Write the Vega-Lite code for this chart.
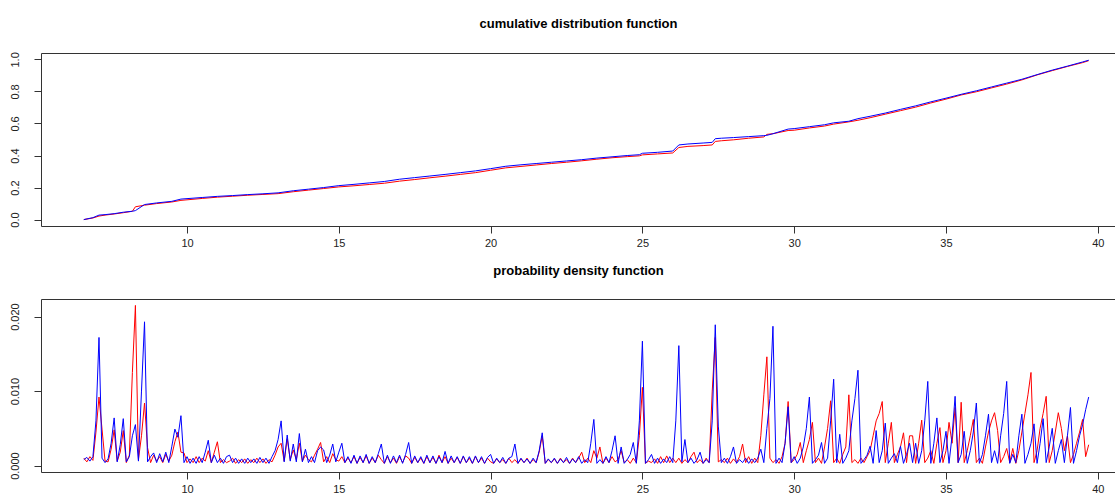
{
"$schema": "https://vega.github.io/schema/vega-lite/v6.json",
"background": "white",
"padding": {"left": 0, "right": 0, "top": 17, "bottom": 0},
"spacing": 12,
"config": {
  "view": {"stroke": "#333", "strokeWidth": 1},
  "font": "Liberation Sans",
  "title": {"font": "Liberation Sans", "fontSize": 13, "fontWeight": "bold", "color": "black", "anchor": "middle", "offset": 21},
  "axis": {"title": null, "grid": false, "domain": false, "tickColor": "#333", "tickSize": 7, "labelFont": "Liberation Sans", "labelFontSize": 11, "labelColor": "#222", "labelOverlap": false, "labelFlush": false, "labelBound": false},
  "axisX": {"labelPadding": 4, "minExtent": 25, "maxExtent": 25},
  "axisY": {"labelAngle": -90, "labelAlign": "center", "labelBaseline": "bottom", "labelPadding": 14, "minExtent": 40, "maxExtent": 40}
},
"datasets": {
"cdf": [
{"x":6.6,"b":0,"r":0},
{"x":6.9,"b":0.012,"r":0.010},
{"x":7.1,"b":0.028,"r":0.022},
{"x":7.3,"b":0.031,"r":0.028},
{"x":7.6,"b":0.037,"r":0.035},
{"x":7.9,"b":0.046,"r":0.043},
{"x":8.2,"b":0.052,"r":0.052},
{"x":8.3,"b":0.056,"r":0.080},
{"x":8.6,"b":0.094,"r":0.090},
{"x":9.0,"b":0.104,"r":0.100},
{"x":9.5,"b":0.114,"r":0.110},
{"x":9.8,"b":0.128,"r":0.120},
{"x":10.5,"b":0.138,"r":0.132},
{"x":11.0,"b":0.145,"r":0.140},
{"x":11.5,"b":0.150,"r":0.146},
{"x":12.0,"b":0.156,"r":0.152},
{"x":12.5,"b":0.161,"r":0.157},
{"x":13.0,"b":0.167,"r":0.162},
{"x":13.5,"b":0.180,"r":0.174},
{"x":14.0,"b":0.190,"r":0.184},
{"x":14.5,"b":0.200,"r":0.194},
{"x":15.0,"b":0.212,"r":0.204},
{"x":15.5,"b":0.220,"r":0.211},
{"x":16.0,"b":0.229,"r":0.219},
{"x":16.5,"b":0.238,"r":0.227},
{"x":17.0,"b":0.252,"r":0.240},
{"x":17.5,"b":0.262,"r":0.250},
{"x":18.0,"b":0.272,"r":0.261},
{"x":18.5,"b":0.282,"r":0.271},
{"x":19.0,"b":0.293,"r":0.282},
{"x":19.5,"b":0.304,"r":0.293},
{"x":20.0,"b":0.318,"r":0.308},
{"x":20.5,"b":0.333,"r":0.323},
{"x":21.0,"b":0.342,"r":0.332},
{"x":21.5,"b":0.350,"r":0.341},
{"x":22.0,"b":0.358,"r":0.350},
{"x":22.5,"b":0.366,"r":0.358},
{"x":23.0,"b":0.374,"r":0.367},
{"x":23.5,"b":0.384,"r":0.377},
{"x":24.0,"b":0.392,"r":0.386},
{"x":24.5,"b":0.400,"r":0.393},
{"x":24.9,"b":0.405,"r":0.398},
{"x":25.0,"b":0.414,"r":0.404},
{"x":25.5,"b":0.420,"r":0.410},
{"x":26.0,"b":0.428,"r":0.416},
{"x":26.2,"b":0.466,"r":0.450},
{"x":26.5,"b":0.472,"r":0.457},
{"x":27.0,"b":0.478,"r":0.462},
{"x":27.3,"b":0.482,"r":0.466},
{"x":27.4,"b":0.505,"r":0.488},
{"x":27.6,"b":0.508,"r":0.492},
{"x":28.0,"b":0.512,"r":0.498},
{"x":28.5,"b":0.518,"r":0.508},
{"x":29.0,"b":0.524,"r":0.516},
{"x":29.1,"b":0.526,"r":0.532},
{"x":29.3,"b":0.536,"r":0.536},
{"x":29.8,"b":0.565,"r":0.556},
{"x":30.0,"b":0.568,"r":0.558},
{"x":30.5,"b":0.580,"r":0.572},
{"x":31.0,"b":0.592,"r":0.584},
{"x":31.3,"b":0.604,"r":0.596},
{"x":31.8,"b":0.614,"r":0.610},
{"x":32.1,"b":0.630,"r":0.620},
{"x":32.5,"b":0.645,"r":0.636},
{"x":33.0,"b":0.665,"r":0.658},
{"x":33.5,"b":0.688,"r":0.680},
{"x":34.0,"b":0.710,"r":0.702},
{"x":34.5,"b":0.735,"r":0.728},
{"x":35.0,"b":0.758,"r":0.752},
{"x":35.5,"b":0.782,"r":0.778},
{"x":36.0,"b":0.804,"r":0.798},
{"x":36.5,"b":0.828,"r":0.822},
{"x":37.0,"b":0.852,"r":0.846},
{"x":37.5,"b":0.876,"r":0.872},
{"x":38.0,"b":0.905,"r":0.903},
{"x":38.5,"b":0.933,"r":0.930},
{"x":39.0,"b":0.958,"r":0.956},
{"x":39.5,"b":0.984,"r":0.980},
{"x":39.7,"b":0.995,"r":0.992}
],
"pdf": [
{"x":6.6,"b":0.0008,"r":0.0010},
{"x":6.7,"b":0.0011,"r":0.0005},
{"x":6.8,"b":0.0006,"r":0.0012},
{"x":6.9,"b":0.0012,"r":0.0007},
{"x":7.0,"b":0.0060,"r":0.0045},
{"x":7.1,"b":0.0172,"r":0.0092},
{"x":7.2,"b":0.0010,"r":0.0049},
{"x":7.3,"b":0.0004,"r":0.0006},
{"x":7.4,"b":0.0009,"r":0.0005},
{"x":7.5,"b":0.0030,"r":0.0022},
{"x":7.6,"b":0.0064,"r":0.0048},
{"x":7.7,"b":0.0005,"r":0.0006},
{"x":7.8,"b":0.0028,"r":0.0018},
{"x":7.9,"b":0.0063,"r":0.0047},
{"x":8.0,"b":0.0005,"r":0.0004},
{"x":8.1,"b":0.0012,"r":0.0014},
{"x":8.2,"b":0.0040,"r":0.0125},
{"x":8.3,"b":0.0055,"r":0.0215},
{"x":8.4,"b":0.0006,"r":0.0008},
{"x":8.5,"b":0.0100,"r":0.0040},
{"x":8.6,"b":0.0193,"r":0.0084},
{"x":8.7,"b":0.0005,"r":0.0024},
{"x":8.8,"b":0.0012,"r":0.0004},
{"x":8.9,"b":0.0017,"r":0.0014},
{"x":9.0,"b":0.0004,"r":0.0006},
{"x":9.1,"b":0.0016,"r":0.0012},
{"x":9.2,"b":0.0005,"r":0.0004},
{"x":9.3,"b":0.0018,"r":0.0015},
{"x":9.4,"b":0.0004,"r":0.0006},
{"x":9.5,"b":0.0026,"r":0.0014},
{"x":9.6,"b":0.0049,"r":0.0032},
{"x":9.7,"b":0.0038,"r":0.0045},
{"x":9.8,"b":0.0067,"r":0.0018},
{"x":9.9,"b":0.0004,"r":0.0017},
{"x":10.0,"b":0.0012,"r":0.0004},
{"x":10.1,"b":0.0003,"r":0.0009},
{"x":10.2,"b":0.0010,"r":0.0004},
{"x":10.3,"b":0.0003,"r":0.0012},
{"x":10.4,"b":0.0012,"r":0.0004},
{"x":10.5,"b":0.0004,"r":0.0010},
{"x":10.6,"b":0.0018,"r":0.0006},
{"x":10.7,"b":0.0034,"r":0.0020},
{"x":10.8,"b":0.0004,"r":0.0004},
{"x":10.9,"b":0.0014,"r":0.0018},
{"x":11.0,"b":0.0004,"r":0.0032},
{"x":11.1,"b":0.0010,"r":0.0004},
{"x":11.2,"b":0.0003,"r":0.0008},
{"x":11.3,"b":0.0012,"r":0.0004},
{"x":11.4,"b":0.0014,"r":0.0006},
{"x":11.5,"b":0.0004,"r":0.0010},
{"x":11.6,"b":0.0010,"r":0.0003},
{"x":11.7,"b":0.0003,"r":0.0008},
{"x":11.8,"b":0.0009,"r":0.0004},
{"x":11.9,"b":0.0003,"r":0.0009},
{"x":12.0,"b":0.0010,"r":0.0003},
{"x":12.1,"b":0.0004,"r":0.0008},
{"x":12.2,"b":0.0009,"r":0.0004},
{"x":12.3,"b":0.0003,"r":0.0010},
{"x":12.4,"b":0.0011,"r":0.0004},
{"x":12.5,"b":0.0004,"r":0.0009},
{"x":12.6,"b":0.0010,"r":0.0003},
{"x":12.7,"b":0.0003,"r":0.0008},
{"x":12.8,"b":0.0012,"r":0.0005},
{"x":12.9,"b":0.0020,"r":0.0014},
{"x":13.0,"b":0.0035,"r":0.0025},
{"x":13.1,"b":0.0060,"r":0.0030},
{"x":13.2,"b":0.0005,"r":0.0006},
{"x":13.3,"b":0.0041,"r":0.0036},
{"x":13.4,"b":0.0006,"r":0.0008},
{"x":13.5,"b":0.0029,"r":0.0021},
{"x":13.6,"b":0.0005,"r":0.0008},
{"x":13.7,"b":0.0043,"r":0.0030},
{"x":13.8,"b":0.0005,"r":0.0006},
{"x":13.9,"b":0.0022,"r":0.0014},
{"x":14.0,"b":0.0004,"r":0.0008},
{"x":14.1,"b":0.0012,"r":0.0005},
{"x":14.2,"b":0.0004,"r":0.0014},
{"x":14.3,"b":0.0020,"r":0.0022},
{"x":14.4,"b":0.0025,"r":0.0031},
{"x":14.5,"b":0.0021,"r":0.0005},
{"x":14.6,"b":0.0004,"r":0.0012},
{"x":14.7,"b":0.0014,"r":0.0004},
{"x":14.8,"b":0.0029,"r":0.0016},
{"x":14.9,"b":0.0005,"r":0.0008},
{"x":15.0,"b":0.0018,"r":0.0006},
{"x":15.1,"b":0.0030,"r":0.0012},
{"x":15.2,"b":0.0004,"r":0.0004},
{"x":15.3,"b":0.0012,"r":0.0010},
{"x":15.4,"b":0.0003,"r":0.0004},
{"x":15.5,"b":0.0014,"r":0.0012},
{"x":15.6,"b":0.0003,"r":0.0003},
{"x":15.7,"b":0.0013,"r":0.0011},
{"x":15.8,"b":0.0004,"r":0.0004},
{"x":15.9,"b":0.0015,"r":0.0013},
{"x":16.0,"b":0.0003,"r":0.0003},
{"x":16.1,"b":0.0012,"r":0.0010},
{"x":16.2,"b":0.0004,"r":0.0004},
{"x":16.3,"b":0.0016,"r":0.0014},
{"x":16.4,"b":0.0029,"r":0.0008},
{"x":16.5,"b":0.0003,"r":0.0003},
{"x":16.6,"b":0.0014,"r":0.0012},
{"x":16.7,"b":0.0003,"r":0.0004},
{"x":16.8,"b":0.0013,"r":0.0010},
{"x":16.9,"b":0.0004,"r":0.0003},
{"x":17.0,"b":0.0014,"r":0.0012},
{"x":17.1,"b":0.0003,"r":0.0004},
{"x":17.2,"b":0.0015,"r":0.0013},
{"x":17.3,"b":0.0031,"r":0.0010},
{"x":17.4,"b":0.0003,"r":0.0003},
{"x":17.5,"b":0.0013,"r":0.0011},
{"x":17.6,"b":0.0004,"r":0.0004},
{"x":17.7,"b":0.0012,"r":0.0010},
{"x":17.8,"b":0.0003,"r":0.0003},
{"x":17.9,"b":0.0014,"r":0.0012},
{"x":18.0,"b":0.0004,"r":0.0004},
{"x":18.1,"b":0.0013,"r":0.0011},
{"x":18.2,"b":0.0003,"r":0.0003},
{"x":18.3,"b":0.0012,"r":0.0014},
{"x":18.4,"b":0.0004,"r":0.0004},
{"x":18.5,"b":0.0019,"r":0.0012},
{"x":18.6,"b":0.0003,"r":0.0003},
{"x":18.7,"b":0.0013,"r":0.0010},
{"x":18.8,"b":0.0004,"r":0.0004},
{"x":18.9,"b":0.0012,"r":0.0011},
{"x":19.0,"b":0.0003,"r":0.0003},
{"x":19.1,"b":0.0013,"r":0.0012},
{"x":19.2,"b":0.0004,"r":0.0004},
{"x":19.3,"b":0.0012,"r":0.0010},
{"x":19.4,"b":0.0003,"r":0.0003},
{"x":19.5,"b":0.0013,"r":0.0012},
{"x":19.6,"b":0.0004,"r":0.0004},
{"x":19.7,"b":0.0012,"r":0.0010},
{"x":19.8,"b":0.0003,"r":0.0003},
{"x":19.9,"b":0.0011,"r":0.0010},
{"x":20.0,"b":0.0015,"r":0.0005},
{"x":20.1,"b":0.0003,"r":0.0003},
{"x":20.2,"b":0.0010,"r":0.0009},
{"x":20.3,"b":0.0004,"r":0.0004},
{"x":20.4,"b":0.0011,"r":0.0008},
{"x":20.5,"b":0.0003,"r":0.0003},
{"x":20.6,"b":0.0010,"r":0.0010},
{"x":20.7,"b":0.0012,"r":0.0004},
{"x":20.8,"b":0.0029,"r":0.0008},
{"x":20.9,"b":0.0003,"r":0.0003},
{"x":21.0,"b":0.0010,"r":0.0009},
{"x":21.1,"b":0.0004,"r":0.0004},
{"x":21.2,"b":0.0009,"r":0.0010},
{"x":21.3,"b":0.0003,"r":0.0003},
{"x":21.4,"b":0.0010,"r":0.0008},
{"x":21.5,"b":0.0004,"r":0.0004},
{"x":21.6,"b":0.0020,"r":0.0018},
{"x":21.7,"b":0.0044,"r":0.0040},
{"x":21.8,"b":0.0003,"r":0.0003},
{"x":21.9,"b":0.0009,"r":0.0008},
{"x":22.0,"b":0.0004,"r":0.0004},
{"x":22.1,"b":0.0010,"r":0.0009},
{"x":22.2,"b":0.0003,"r":0.0003},
{"x":22.3,"b":0.0009,"r":0.0010},
{"x":22.4,"b":0.0004,"r":0.0004},
{"x":22.5,"b":0.0011,"r":0.0008},
{"x":22.6,"b":0.0003,"r":0.0003},
{"x":22.7,"b":0.0009,"r":0.0010},
{"x":22.8,"b":0.0004,"r":0.0004},
{"x":22.9,"b":0.0012,"r":0.0010},
{"x":23.0,"b":0.0003,"r":0.0018},
{"x":23.1,"b":0.0008,"r":0.0004},
{"x":23.2,"b":0.0004,"r":0.0010},
{"x":23.3,"b":0.0030,"r":0.0004},
{"x":23.4,"b":0.0062,"r":0.0020},
{"x":23.5,"b":0.0003,"r":0.0010},
{"x":23.6,"b":0.0008,"r":0.0025},
{"x":23.7,"b":0.0003,"r":0.0003},
{"x":23.8,"b":0.0012,"r":0.0010},
{"x":23.9,"b":0.0004,"r":0.0004},
{"x":24.0,"b":0.0020,"r":0.0012},
{"x":24.1,"b":0.0040,"r":0.0005},
{"x":24.2,"b":0.0003,"r":0.0008},
{"x":24.3,"b":0.0025,"r":0.0020},
{"x":24.4,"b":0.0003,"r":0.0004},
{"x":24.5,"b":0.0008,"r":0.0008},
{"x":24.6,"b":0.0015,"r":0.0003},
{"x":24.7,"b":0.0031,"r":0.0010},
{"x":24.8,"b":0.0003,"r":0.0004},
{"x":24.9,"b":0.0060,"r":0.0040},
{"x":25.0,"b":0.0167,"r":0.0105},
{"x":25.1,"b":0.0003,"r":0.0003},
{"x":25.2,"b":0.0008,"r":0.0006},
{"x":25.3,"b":0.0015,"r":0.0004},
{"x":25.4,"b":0.0003,"r":0.0009},
{"x":25.5,"b":0.0010,"r":0.0003},
{"x":25.6,"b":0.0003,"r":0.0012},
{"x":25.7,"b":0.0009,"r":0.0004},
{"x":25.8,"b":0.0004,"r":0.0013},
{"x":25.9,"b":0.0012,"r":0.0004},
{"x":26.0,"b":0.0004,"r":0.0010},
{"x":26.1,"b":0.0060,"r":0.0004},
{"x":26.2,"b":0.0161,"r":0.0010},
{"x":26.3,"b":0.0005,"r":0.0003},
{"x":26.4,"b":0.0035,"r":0.0008},
{"x":26.5,"b":0.0004,"r":0.0004},
{"x":26.6,"b":0.0010,"r":0.0012},
{"x":26.7,"b":0.0003,"r":0.0018},
{"x":26.8,"b":0.0008,"r":0.0004},
{"x":26.9,"b":0.0018,"r":0.0008},
{"x":27.0,"b":0.0003,"r":0.0003},
{"x":27.1,"b":0.0008,"r":0.0010},
{"x":27.2,"b":0.0004,"r":0.0004},
{"x":27.3,"b":0.0060,"r":0.0100},
{"x":27.4,"b":0.0189,"r":0.0172},
{"x":27.5,"b":0.0053,"r":0.0005},
{"x":27.6,"b":0.0004,"r":0.0008},
{"x":27.7,"b":0.0010,"r":0.0004},
{"x":27.8,"b":0.0003,"r":0.0010},
{"x":27.9,"b":0.0012,"r":0.0003},
{"x":28.0,"b":0.0025,"r":0.0009},
{"x":28.1,"b":0.0003,"r":0.0004},
{"x":28.2,"b":0.0008,"r":0.0012},
{"x":28.3,"b":0.0004,"r":0.0029},
{"x":28.4,"b":0.0010,"r":0.0004},
{"x":28.5,"b":0.0003,"r":0.0012},
{"x":28.6,"b":0.0009,"r":0.0003},
{"x":28.7,"b":0.0004,"r":0.0010},
{"x":28.8,"b":0.0010,"r":0.0004},
{"x":28.9,"b":0.0022,"r":0.0040},
{"x":29.0,"b":0.0004,"r":0.0095},
{"x":29.1,"b":0.0050,"r":0.0146},
{"x":29.2,"b":0.0090,"r":0.0010},
{"x":29.3,"b":0.0187,"r":0.0004},
{"x":29.4,"b":0.0003,"r":0.0008},
{"x":29.5,"b":0.0010,"r":0.0003},
{"x":29.6,"b":0.0004,"r":0.0012},
{"x":29.7,"b":0.0030,"r":0.0030},
{"x":29.8,"b":0.0079,"r":0.0086},
{"x":29.9,"b":0.0004,"r":0.0004},
{"x":30.0,"b":0.0012,"r":0.0008},
{"x":30.1,"b":0.0003,"r":0.0015},
{"x":30.2,"b":0.0010,"r":0.0031},
{"x":30.3,"b":0.0025,"r":0.0004},
{"x":30.4,"b":0.0050,"r":0.0020},
{"x":30.5,"b":0.0092,"r":0.0035},
{"x":30.6,"b":0.0003,"r":0.0058},
{"x":30.7,"b":0.0008,"r":0.0004},
{"x":30.8,"b":0.0014,"r":0.0010},
{"x":30.9,"b":0.0031,"r":0.0003},
{"x":31.0,"b":0.0003,"r":0.0025},
{"x":31.1,"b":0.0010,"r":0.0050},
{"x":31.2,"b":0.0060,"r":0.0087},
{"x":31.3,"b":0.0116,"r":0.0004},
{"x":31.4,"b":0.0004,"r":0.0010},
{"x":31.5,"b":0.0042,"r":0.0003},
{"x":31.6,"b":0.0003,"r":0.0015},
{"x":31.7,"b":0.0010,"r":0.0025},
{"x":31.8,"b":0.0020,"r":0.0095},
{"x":31.9,"b":0.0060,"r":0.0004},
{"x":32.0,"b":0.0090,"r":0.0008},
{"x":32.1,"b":0.0128,"r":0.0003},
{"x":32.2,"b":0.0003,"r":0.0010},
{"x":32.3,"b":0.0008,"r":0.0004},
{"x":32.4,"b":0.0014,"r":0.0012},
{"x":32.5,"b":0.0026,"r":0.0020},
{"x":32.6,"b":0.0003,"r":0.0040},
{"x":32.7,"b":0.0047,"r":0.0060},
{"x":32.8,"b":0.0004,"r":0.0070},
{"x":32.9,"b":0.0020,"r":0.0086},
{"x":33.0,"b":0.0057,"r":0.0004},
{"x":33.1,"b":0.0003,"r":0.0030},
{"x":33.2,"b":0.0010,"r":0.0058},
{"x":33.3,"b":0.0016,"r":0.0004},
{"x":33.4,"b":0.0004,"r":0.0015},
{"x":33.5,"b":0.0026,"r":0.0025},
{"x":33.6,"b":0.0003,"r":0.0044},
{"x":33.7,"b":0.0015,"r":0.0004},
{"x":33.8,"b":0.0030,"r":0.0040},
{"x":33.9,"b":0.0004,"r":0.0040},
{"x":34.0,"b":0.0030,"r":0.0003},
{"x":34.1,"b":0.0003,"r":0.0030},
{"x":34.2,"b":0.0020,"r":0.0061},
{"x":34.3,"b":0.0060,"r":0.0004},
{"x":34.4,"b":0.0113,"r":0.0010},
{"x":34.5,"b":0.0003,"r":0.0020},
{"x":34.6,"b":0.0030,"r":0.0003},
{"x":34.7,"b":0.0064,"r":0.0030},
{"x":34.8,"b":0.0004,"r":0.0051},
{"x":34.9,"b":0.0020,"r":0.0004},
{"x":35.0,"b":0.0046,"r":0.0020},
{"x":35.1,"b":0.0003,"r":0.0058},
{"x":35.2,"b":0.0040,"r":0.0030},
{"x":35.3,"b":0.0093,"r":0.0078},
{"x":35.4,"b":0.0004,"r":0.0004},
{"x":35.5,"b":0.0015,"r":0.0085},
{"x":35.6,"b":0.0046,"r":0.0004},
{"x":35.7,"b":0.0003,"r":0.0020},
{"x":35.8,"b":0.0020,"r":0.0040},
{"x":35.9,"b":0.0045,"r":0.0062},
{"x":36.0,"b":0.0084,"r":0.0004},
{"x":36.1,"b":0.0003,"r":0.0010},
{"x":36.2,"b":0.0015,"r":0.0003},
{"x":36.3,"b":0.0040,"r":0.0025},
{"x":36.4,"b":0.0069,"r":0.0045},
{"x":36.5,"b":0.0004,"r":0.0060},
{"x":36.6,"b":0.0020,"r":0.0071},
{"x":36.7,"b":0.0003,"r":0.0047},
{"x":36.8,"b":0.0040,"r":0.0004},
{"x":36.9,"b":0.0070,"r":0.0012},
{"x":37.0,"b":0.0113,"r":0.0023},
{"x":37.1,"b":0.0003,"r":0.0004},
{"x":37.2,"b":0.0015,"r":0.0023},
{"x":37.3,"b":0.0004,"r":0.0003},
{"x":37.4,"b":0.0040,"r":0.0020},
{"x":37.5,"b":0.0069,"r":0.0045},
{"x":37.6,"b":0.0003,"r":0.0070},
{"x":37.7,"b":0.0015,"r":0.0095},
{"x":37.8,"b":0.0030,"r":0.0125},
{"x":37.9,"b":0.0056,"r":0.0004},
{"x":38.0,"b":0.0003,"r":0.0020},
{"x":38.1,"b":0.0030,"r":0.0050},
{"x":38.2,"b":0.0063,"r":0.0070},
{"x":38.3,"b":0.0004,"r":0.0093},
{"x":38.4,"b":0.0025,"r":0.0004},
{"x":38.5,"b":0.0050,"r":0.0020},
{"x":38.6,"b":0.0003,"r":0.0045},
{"x":38.7,"b":0.0020,"r":0.0071},
{"x":38.8,"b":0.0035,"r":0.0050},
{"x":38.9,"b":0.0004,"r":0.0020},
{"x":39.0,"b":0.0040,"r":0.0040},
{"x":39.1,"b":0.0078,"r":0.0004},
{"x":39.2,"b":0.0003,"r":0.0015},
{"x":39.3,"b":0.0020,"r":0.0030},
{"x":39.4,"b":0.0040,"r":0.0045},
{"x":39.5,"b":0.0055,"r":0.0062},
{"x":39.6,"b":0.0075,"r":0.0012},
{"x":39.7,"b":0.0092,"r":0.0028}
]
},
"vconcat": [
{
  "title": {"text": "cumulative distribution function"},
  "width": 1075,
  "height": 173,
  "data": {"name": "cdf"},
  "encoding": {
    "x": {"field": "x", "type": "quantitative", "scale": {"domain": [5.19, 40.6], "nice": false, "zero": false}, "axis": {"values": [10, 15, 20, 25, 30, 35, 40]}}
  },
  "layer": [
    {"mark": {"type": "line", "color": "red", "strokeWidth": 1}, "encoding": {"y": {"field": "r", "type": "quantitative", "scale": {"domain": [-0.04, 1.04], "nice": false, "zero": false}, "axis": {"values": [0, 0.2, 0.4, 0.6, 0.8, 1.0], "format": ".1f", "labelOverlap": false, "tickCount": 6}}}},
    {"mark": {"type": "line", "color": "blue", "strokeWidth": 1}, "encoding": {"y": {"field": "b", "type": "quantitative", "axis": {"values": [0, 0.2, 0.4, 0.6, 0.8, 1.0], "format": ".1f", "labelOverlap": false, "tickCount": 6}}}}
  ]
},
{
  "title": {"text": "probability density function"},
  "width": 1075,
  "height": 173,
  "data": {"name": "pdf"},
  "encoding": {
    "x": {"field": "x", "type": "quantitative", "scale": {"domain": [5.19, 40.6], "nice": false, "zero": false}, "axis": {"values": [10, 15, 20, 25, 30, 35, 40]}}
  },
  "layer": [
    {"mark": {"type": "line", "color": "red", "strokeWidth": 1}, "encoding": {"y": {"field": "r", "type": "quantitative", "scale": {"domain": [-0.00086, 0.02236], "nice": false, "zero": false}, "axis": {"values": [0, 0.01, 0.02], "format": ".3f", "labelOverlap": false}}}},
    {"mark": {"type": "line", "color": "blue", "strokeWidth": 1}, "encoding": {"y": {"field": "b", "type": "quantitative", "axis": {"values": [0, 0.01, 0.02], "format": ".3f", "labelOverlap": false}}}}
  ]
}
]
}
